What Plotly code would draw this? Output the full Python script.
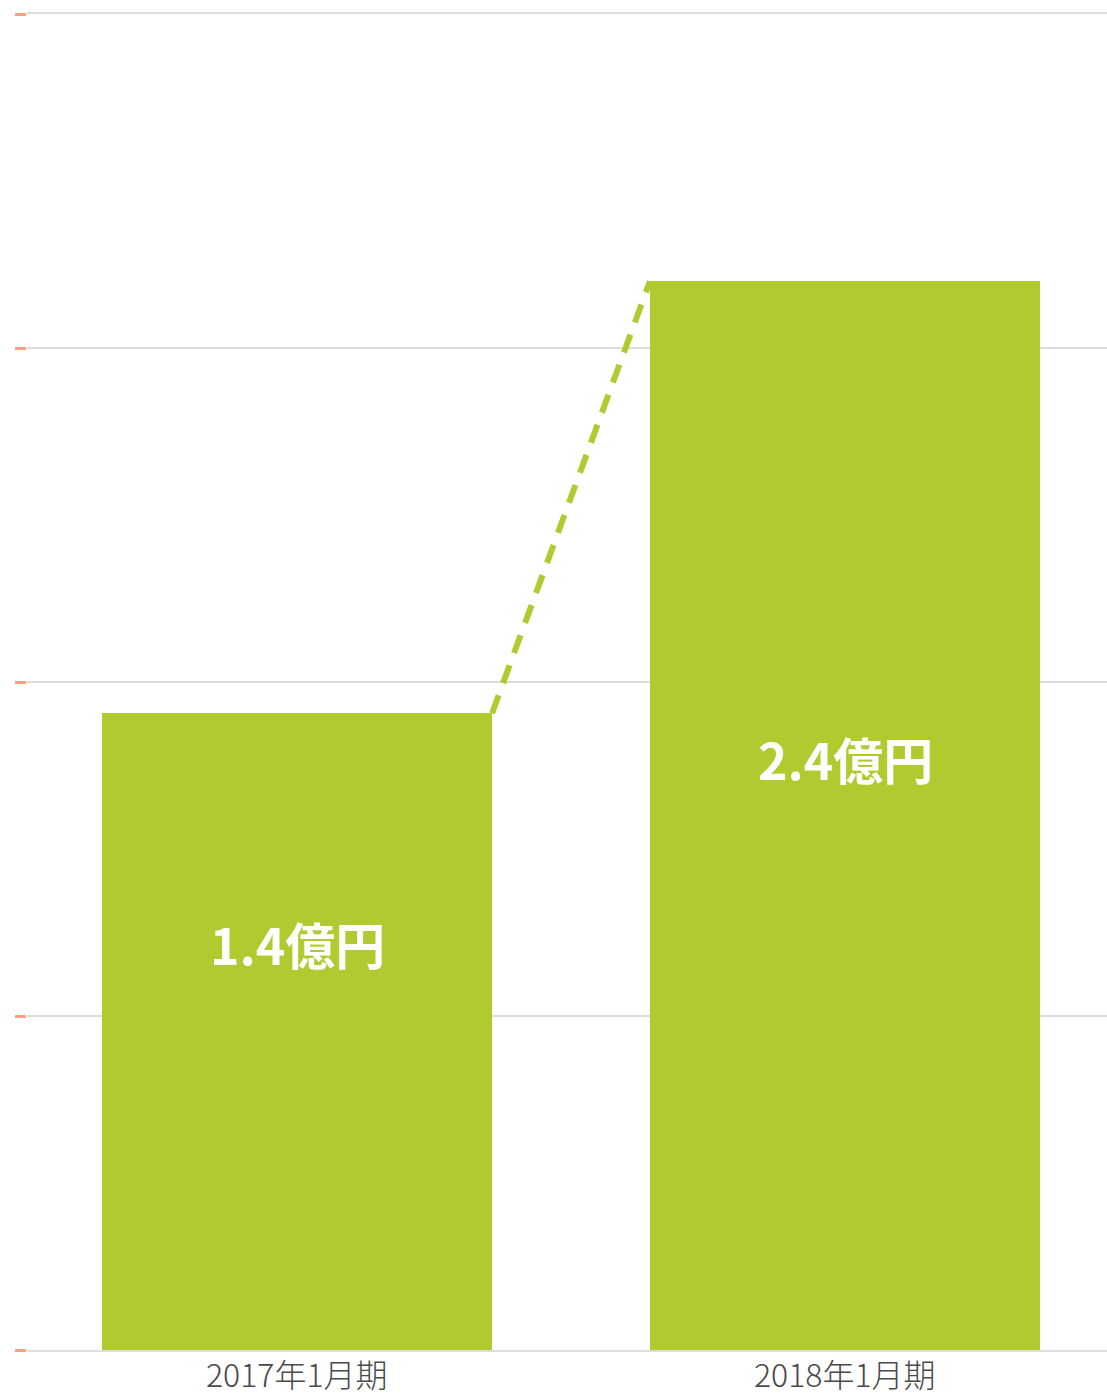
import plotly.graph_objects as go

categories = ["2017年1月期", "2018年1月期"]
values = [1.43, 2.4]
value_labels = ["1.4億円", "2.4億円"]
y_ticks = [0, 0.75, 1.5, 2.25, 3.0]

BAR_COLOR = "#b1ca2f"
BAR_WIDTH = 0.712
x_pos = list(range(len(categories)))

fig = go.Figure()
fig.add_trace(go.Bar(
    x=x_pos, y=values, width=BAR_WIDTH,
    marker=dict(color=BAR_COLOR, line=dict(width=0)),
    hoverinfo="skip", showlegend=False,
))
# dashed connector from top-right of first bar to top-left of second bar
fig.add_trace(go.Scatter(
    x=[x_pos[0] + BAR_WIDTH / 2, x_pos[1] - BAR_WIDTH / 2],
    y=[values[0], values[1]],
    mode="lines",
    line=dict(color=BAR_COLOR, width=6, dash="19px,13px"),
    hoverinfo="skip", showlegend=False,
))

label_y = [0.913, 1.33]
for xi, ly, txt in zip(x_pos, label_y, value_labels):
    fig.add_annotation(
        x=xi, y=ly, text=f"<b>{txt}</b>", showarrow=False,
        font=dict(family="Noto Sans CJK JP", size=50, color="white"),
        xanchor="center", yanchor="middle",
    )

# category labels under the axis
for xi, cat in zip(x_pos, categories):
    fig.add_annotation(
        x=xi, xref="x", y=0, yref="paper", text=cat, showarrow=False,
        font=dict(family="Noto Sans CJK JP", size=32, color="#4a4a4a", weight=300),
        xanchor="center", yanchor="middle", yshift=-23, borderpad=0,
    )

fig.update_layout(
    width=1107, height=1396,
    margin=dict(l=27, r=0, t=14, b=46),
    paper_bgcolor="white", plot_bgcolor="white",
    bargap=0,
    font=dict(family="Noto Sans CJK JP", color="#444444"),
    xaxis=dict(
        range=[-0.4927, 1.478],
        tickvals=x_pos, showticklabels=False,
        showgrid=False, zeroline=False,
        showline=True, mirror=True, linecolor="#dddddd", linewidth=2,
        ticks="", automargin=False,
        fixedrange=True,
    ),
    yaxis=dict(
        range=[0, 3.0], tickvals=y_ticks, showticklabels=False,
        showgrid=True, gridcolor="#dcdcdc", gridwidth=2,
        zeroline=False, showline=False, automargin=False,
        ticks="outside", ticklen=11, tickwidth=3, tickcolor="#ff9f80",
        fixedrange=True,
    ),
)

fig.write_html("out.html")
